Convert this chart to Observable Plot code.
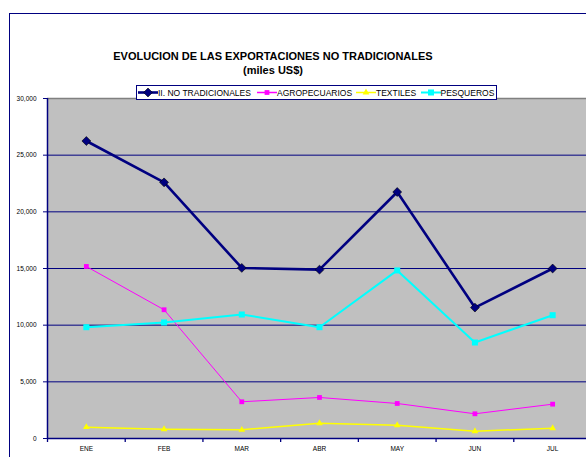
<!DOCTYPE html>
<html>
<head>
<meta charset="utf-8">
<script src="https://cdn.jsdelivr.net/npm/d3@7"></script>
<script src="https://cdn.jsdelivr.net/npm/@observablehq/plot@0.6"></script>
<style>
  html, body { margin: 0; padding: 0; background: #ffffff; overflow: hidden; }
  #wrap { position: relative; width: 586px; height: 457px; overflow: hidden; font-family: "Liberation Sans", Arial, sans-serif; }
  #chart { position: absolute; left: 0; top: 0; }
  #border { position: absolute; left: 9px; top: 13px; width: 700px; height: 600px; border-left: 1.5px solid #000080; border-top: 1.5px solid #000080; pointer-events: none; }
  .title { position: absolute; left: 0; width: 546px; text-align: center; font-weight: bold; color: #000; white-space: nowrap; }
  #legend { position: absolute; left: 136px; top: 85px; width: 361px; height: 15px; box-sizing: border-box; border: 1px solid #000080; background: #fff; font-size: 8.5px; color: #000; }
  .item { position: absolute; top: 0; height: 13px; display: flex; align-items: center; white-space: nowrap; }
  .item svg { display: block; }
</style>
</head>
<body>
<div id="wrap">
  <div id="chart"></div>
  <div id="border"></div>
  <div class="title" id="t1" style="top:49.5px;font-size:11px;"></div>
  <div class="title" id="t2" style="top:63.5px;font-size:11px;"></div>
  <div id="legend"></div>
</div>
<script>
const titleText = "EVOLUCION DE LAS EXPORTACIONES NO TRADICIONALES";
const subtitleText = "(miles US$)";
const months = ["ENE", "FEB", "MAR", "ABR", "MAY", "JUN", "JUL"];
const seriesNames = ["II. NO TRADICIONALES", "AGROPECUARIOS", "TEXTILES", "PESQUEROS"];
const noTradicionales = [26250, 22600, 15050, 14900, 21750, 11550, 15000];
const agropecuarios = [15180, 11360, 3240, 3620, 3090, 2180, 3030];
const textiles = [1000, 820, 770, 1350, 1170, 640, 910];
const pesqueros = [9820, 10240, 10940, 9820, 14830, 8470, 10880];
const yTicks = [0, 5000, 10000, 15000, 20000, 25000, 30000];

const seriesValues = [noTradicionales, agropecuarios, textiles, pesqueros];
const styles = [
  {color: "#000080", width: 2.6, symbol: "diamond2", r: 4, mstroke: "#000000"},
  {color: "#FF00FF", width: 1, symbol: "square", r: 2.7, mstroke: "none"},
  {color: "#FFFF00", width: 1.5, symbol: "triangle", r: 2.5, mstroke: "none"},
  {color: "#00FFFF", width: 2, symbol: "square", r: 3.4, mstroke: "none"}
];

const rows = seriesNames.map((name, s) =>
  months.map((m, i) => ({series: name, i, month: m, value: seriesValues[s][i]})));

const navy = "#000080";
const gridValues = yTicks.filter(v => v > 0 && v < 30000);
const boundaries = d3.range(months.length + 1).map(k => k - 0.5);

const marks = [
  Plot.frame({fill: "#C0C0C0", stroke: "none"}),
  Plot.ruleY(gridValues, {stroke: navy, strokeWidth: 1}),
  Plot.ruleY([30000], {stroke: "#808080", strokeWidth: 1.5}),
  Plot.ruleY([0], {stroke: navy, strokeWidth: 1.5}),
  Plot.ruleX([-0.5], {stroke: navy, strokeWidth: 1.5}),
  Plot.axisY({ticks: yTicks, tickFormat: d3.format(","), tickSize: 4, tickPadding: 7,
    stroke: navy, fill: "#000", fontSize: 6.5, label: null}),
  Plot.axisX({ticks: d3.range(months.length), tickFormat: i => months[i], tickSize: 0, tickPadding: 7.5,
    fill: "#000", fontSize: 6.5, label: null}),
  Plot.axisX({ticks: boundaries, tickFormat: () => "", tickSize: 4, stroke: navy, strokeWidth: 1.3, label: null})
];
rows.forEach((data, s) => {
  const st = styles[s];
  marks.push(Plot.line(data, {x: "i", y: "value", stroke: st.color, strokeWidth: st.width}));
  marks.push(Plot.dot(data, {x: "i", y: "value", symbol: () => st.symbol, r: st.r, fill: st.color,
    stroke: st.mstroke, strokeWidth: 0.6}));
});

const chart = Plot.plot({
  width: 586,
  height: 457,
  marginLeft: 47,
  marginRight: 0,
  marginTop: 98,
  marginBottom: 19,
  style: {background: "transparent", fontFamily: "Liberation Sans, Arial, sans-serif", overflow: "hidden"},
  x: {type: "linear", domain: [-0.5, 6.5], range: [47, 591], axis: null},
  y: {domain: [0, 30000], axis: null},
  symbol: {type: "identity"},
  marks
});
document.getElementById("chart").appendChild(chart);
document.getElementById("t1").textContent = titleText;
document.getElementById("t2").textContent = subtitleText;

// legend
const legend = document.getElementById("legend");
const lefts = [1, 120, 219, 283.5];
seriesNames.forEach((name, s) => {
  const st = styles[s];
  const item = document.createElement("div");
  item.className = "item";
  item.style.left = lefts[s] + "px";
  const svg = d3.create("svg").attr("width", 20).attr("height", 13);
  svg.append("line").attr("x1", 0).attr("x2", 20).attr("y1", 6.5).attr("y2", 6.5)
    .attr("stroke", st.color).attr("stroke-width", Math.max(st.width, 1.5));
  const symMap = {diamond2: d3.symbolDiamond2, square: d3.symbolSquare, triangle: d3.symbolTriangle};
  svg.append("path").attr("transform", "translate(10,6.5)")
    .attr("d", d3.symbol(symMap[st.symbol], Math.PI * st.r * st.r)())
    .attr("fill", st.color).attr("stroke", st.mstroke === "none" ? null : st.mstroke).attr("stroke-width", 0.6);
  item.appendChild(svg.node());
  const span = document.createElement("span");
  span.textContent = name;
  item.appendChild(span);
  legend.appendChild(item);
});
</script>
</body>
</html>
